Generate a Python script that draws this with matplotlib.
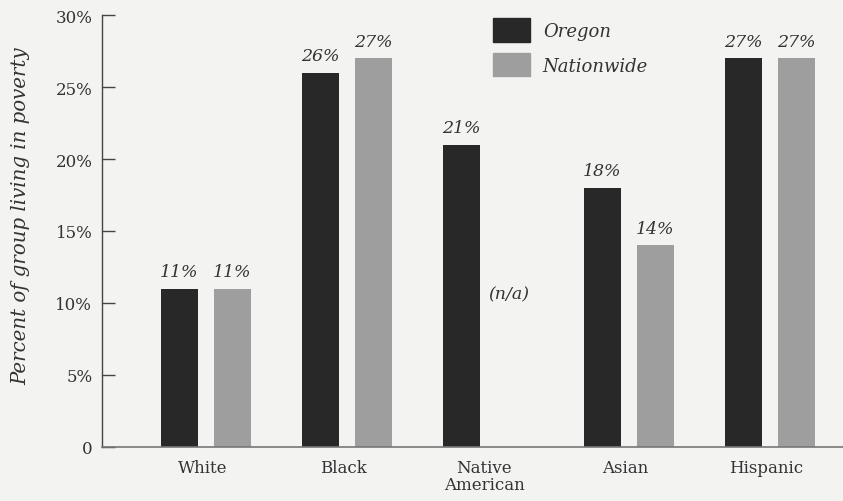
import matplotlib
matplotlib.use("Agg")
import matplotlib.pyplot as plt
import numpy as np

categories = ["White", "Black", "Native\nAmerican", "Asian", "Hispanic"]
oregon = [11, 26, 21, 18, 27]
nationwide = [11, 27, None, 14, 27]
series_names = ["Oregon", "Nationwide"]
y_ticks = [0, 5, 10, 15, 20, 25, 30]
y_tick_labels = ["0", "5%", "10%", "15%", "20%", "25%", "30%"]

bg = "#f3f3f2"
dark = "#282828"
light = "#9e9e9e"
text_col = "#333333"

plt.rcParams["font.family"] = ["DejaVu Serif"]

fig = plt.figure(figsize=(8.43, 5.02), dpi=100, facecolor=bg)
ax = fig.add_axes([0.121, 0.1076, 0.879, 0.8605], facecolor=bg)

x = np.arange(len(categories))
w = 0.262
off = 0.188

for i in range(len(categories)):
    ax.bar(x[i] - off, oregon[i], width=w, color=dark)
    ax.text(x[i] - off, oregon[i] + 0.6, f"{oregon[i]}%", ha="center", va="bottom",
            fontsize=12.5, style="italic", color=text_col)
    if nationwide[i] is not None:
        ax.bar(x[i] + off, nationwide[i], width=w, color=light)
        ax.text(x[i] + off, nationwide[i] + 0.6, f"{nationwide[i]}%", ha="center", va="bottom",
                fontsize=12.5, style="italic", color=text_col)
    else:
        ax.text(x[i] + off - 0.04, 10.6, "(n/a)", ha="center", va="center",
                fontsize=12.5, style="italic", color=text_col)

ax.set_xlim(-0.738, 4.52)
ax.set_ylim(0, 30)
ax.set_yticks(y_ticks)
ax.set_yticklabels(y_tick_labels, fontsize=12, color=text_col)
ax.set_xticks(x - 0.025)
ax.set_xticklabels(categories, fontsize=12, color=text_col, linespacing=0.95)
ax.tick_params(axis="x", length=0, pad=9)
ax.tick_params(axis="y", direction="in", length=9, width=1, color="#444444", pad=7)

for s in ["top", "right"]:
    ax.spines[s].set_visible(False)
ax.spines["left"].set_color("#444444")
ax.spines["bottom"].set_color("#777777")
ax.spines["left"].set_linewidth(1)
ax.spines["bottom"].set_linewidth(1.2)

ax.set_ylabel("Percent of group living in poverty", fontsize=14.2, style="italic",
              color=text_col)
ax.yaxis.set_label_coords(-0.11, 0.537)
ax.yaxis.label.set_va("center")

handles = [plt.Rectangle((0, 0), 1, 1, color=dark), plt.Rectangle((0, 0), 1, 1, color=light)]
leg = ax.legend(handles, series_names, loc="upper left", bbox_to_anchor=(0.506, 1.03),
                frameon=False, handlelength=2.05, handleheight=1.6, handletextpad=0.7,
                labelspacing=0.65, prop={"style": "italic", "size": 13})
for t in leg.get_texts():
    t.set_color(text_col)

fig.savefig("out.png", dpi=100, facecolor=bg)
